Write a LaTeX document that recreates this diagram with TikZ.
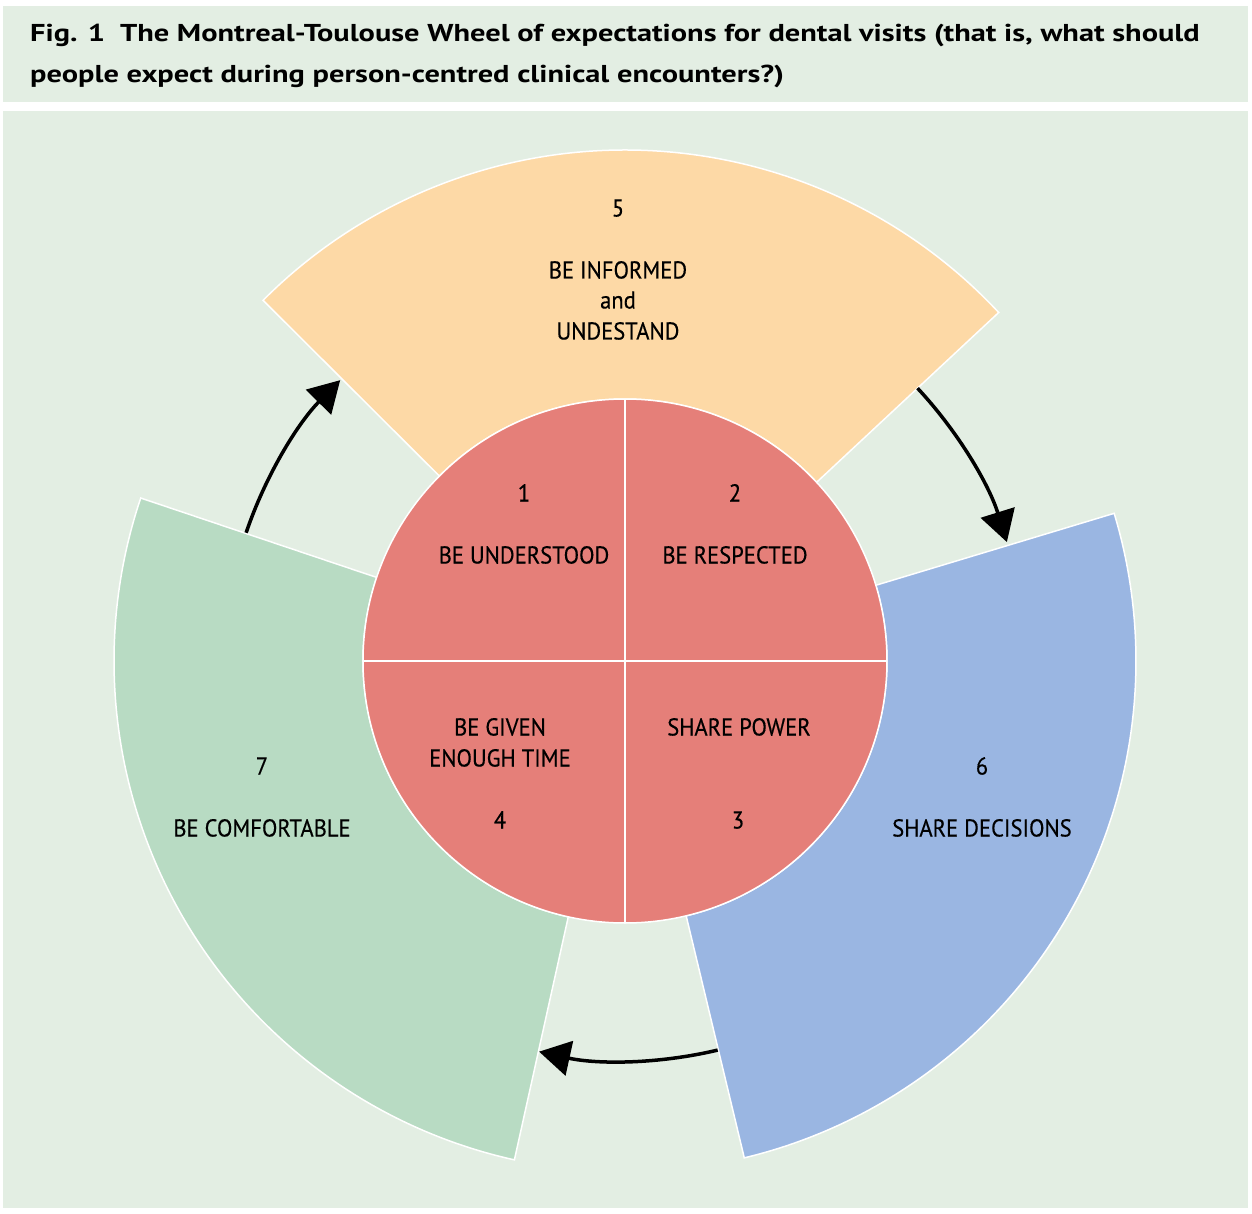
\documentclass[tikz,border=0pt]{standalone}
\usepackage{fontspec}
\setmainfont{PT Sans}[FakeStretch=0.925,FakeBold=0.4]
\newfontfamily\titlefont{PT Sans}[FakeStretch=1.245]
\usetikzlibrary{arrows.meta}
\definecolor{bgg}{HTML}{E3EEE3}
\definecolor{redc}{HTML}{E57F79}
\definecolor{orangec}{HTML}{FDD9A6}
\definecolor{bluec}{HTML}{9AB6E2}
\definecolor{greenc}{HTML}{B8DBC3}
\begin{document}
\begin{tikzpicture}[x=1bp,y=1bp,
  sector/.style={draw=white, line width=1.5bp},
  quad/.style={fill=redc},
  sepline/.style={draw=white, line width=2bp},
  lbl/.style={anchor=base, inner sep=0pt, font=\fontsize{24.5}{30}\selectfont},
  ttl/.style={anchor=base west, inner sep=0pt, font=\titlefont\bfseries\fontsize{24.5}{30}\selectfont},
  arr/.style={line width=3.5bp, -{Triangle[length=31bp,width=35bp]}}
]
\useasboundingbox (-625,-553) rectangle (627,661);
\fill[white] (-625,-553) rectangle (627,661);
% title and panel
\fill[bgg] (-622,655) rectangle (623,559);
\fill[bgg] (-622,550) rectangle (623,-547);
\node[ttl] (title1) at (-595,619) {Fig. 1\hspace{0.3em} The Montreal-Toulouse Wheel of expectations for dental visits (that is, what should};
\node[ttl] (title2) at (-595,578) {people expect during person-centred clinical encounters?)};
% sectors
\def\ri{262}\def\ro{511}
\draw[sector, fill=orangec] (43:\ri) -- (43:\ro) arc[start angle=43, end angle=135.1, radius=\ro] -- (135.1:\ri) arc[start angle=135.1, end angle=43, radius=\ri] -- cycle;
\draw[sector, fill=bluec] (-76.5:\ri) -- (-76.5:\ro) arc[start angle=-76.5, end angle=16.8, radius=\ro] -- (16.8:\ri) arc[start angle=16.8, end angle=-76.5, radius=\ri] -- cycle;
\draw[sector, fill=greenc] (161.4:\ri) -- (161.4:\ro) arc[start angle=161.4, end angle=257.5, radius=\ro] -- (257.5:\ri) arc[start angle=257.5, end angle=161.4, radius=\ri] -- cycle;
% circle
\fill[quad] (0,0) circle[radius=\ri];
\draw[white, line width=1.5bp] (0,0) circle[radius=\ri];
\draw[sepline] (0,\ri) -- (0,-\ri);
\draw[sepline] (-\ri,0) -- (\ri,0);
% arrows
\coordinate (a1s) at (161.3:400);
\coordinate (a2s) at (43:400);
\coordinate (a3s) at (-76.6:400);
\draw[arr] (a1s) arc[start angle=161.3, end angle=135.4, radius=400];
\draw[arr] (a2s) arc[start angle=43, end angle=17.3, radius=400];
\draw[arr] (a3s) arc[start angle=-76.6, end angle=-102.4, radius=400];
% labels
\node[lbl] (n5) at (-7,444.5) {5};
\node[lbl] (t5a) at (-7,382.5) {BE INFORMED};
\node[lbl] (t5b) at (-7,352.5) {and};
\node[lbl] (t5c) at (-7,321.5) {UNDESTAND};
\node[lbl] (n1) at (-101,159.5) {1};
\node[lbl] (t1) at (-101,97.5) {BE UNDERSTOOD};
\node[lbl] (n2) at (110,159.5) {2};
\node[lbl] (t2) at (110,97.5) {BE RESPECTED};
\node[lbl] (t4a) at (-125,-74.5) {BE GIVEN};
\node[lbl] (t4b) at (-125,-105.5) {ENOUGH TIME};
\node[lbl] (n4) at (-125,-167.5) {4};
\node[lbl] (t3) at (114,-74.5) {SHARE POWER};
\node[lbl] (n3) at (113,-167.5) {3};
\node[lbl] (n7) at (-363,-113.5) {7};
\node[lbl] (t7) at (-363,-175.5) {BE COMFORTABLE};
\node[lbl] (n6) at (357,-113.5) {6};
\node[lbl] (t6) at (357,-175.5) {SHARE DECISIONS};
\end{tikzpicture}
\end{document}
